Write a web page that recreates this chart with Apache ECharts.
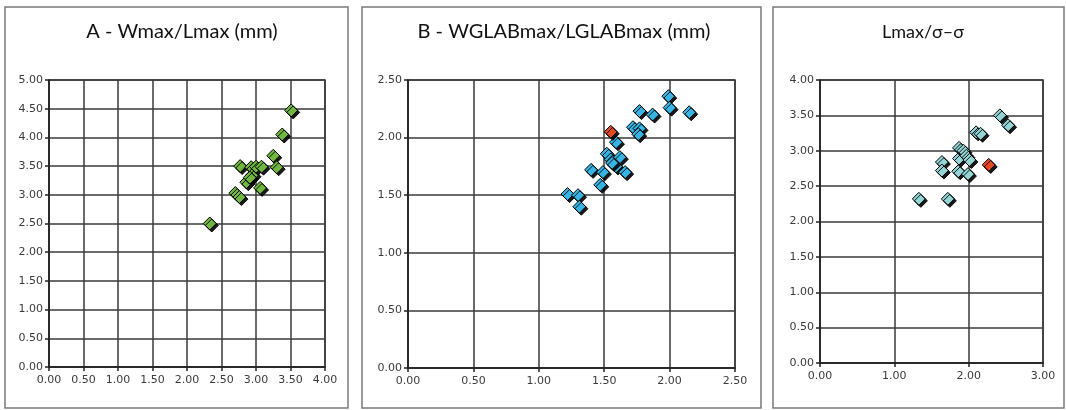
<!DOCTYPE html>
<html>
<head>
<meta charset="utf-8">
<script src="https://cdn.jsdelivr.net/npm/echarts@6/dist/echarts.min.js"></script>
<style>
  html, body { margin: 0; padding: 0; background: #fff; }
  #chart { width: 1066px; height: 410px; }
</style>
</head>
<body>
<div id="chart"></div>
<script>
// panel A - Wmax/Lmax
const titleA = "A - Wmax/Lmax (mm)";
const pointsA = [
  [2.33, 2.50], [2.70, 3.03], [2.76, 2.96], [2.77, 3.50], [2.86, 3.22],
  [2.93, 3.48], [2.95, 3.35], [3.00, 3.49], [3.08, 3.49], [3.06, 3.12],
  [3.25, 3.68], [3.30, 3.48], [3.38, 4.05], [3.51, 4.47], [2.91, 3.30]
];

// panel B - WGLABmax/LGLABmax
const titleB = "B - WGLABmax/LGLABmax (mm)";
const pointsB = [
  [1.22, 1.51], [1.30, 1.50], [1.31, 1.40], [1.40, 1.72], [1.49, 1.70],
  [1.47, 1.59], [1.52, 1.86], [1.55, 1.81], [1.59, 1.96], [1.62, 1.83],
  [1.59, 1.75], [1.66, 1.70], [1.72, 2.09], [1.77, 2.08], [1.76, 2.03],
  [1.77, 2.23], [1.87, 2.20], [1.99, 2.36], [2.00, 2.26], [2.15, 2.22],
  [1.56, 1.78]
];
const redB = [[1.55, 2.05]];

// panel C - Lmax/σ-σ
const titleC = "Lmax/σ–σ";
const pointsC = [
  [1.33, 2.32], [1.72, 2.32], [1.64, 2.84], [1.64, 2.72], [1.86, 2.71],
  [1.99, 2.67], [1.87, 2.89], [1.87, 3.04], [1.93, 3.00], [1.97, 2.93],
  [2.01, 2.87], [2.10, 3.26], [2.16, 3.24], [2.42, 3.50], [2.53, 3.36]
];
const redC = [[2.27, 2.80]];

const axisMaxA = [4, 5];
const axisMaxB = [2.5, 2.5];
const axisMaxC = [3, 4];

const chart = echarts.init(document.getElementById("chart"));
const FONT = "Lato, 'Open Sans', sans-serif";
const LABEL_FONT = "'DejaVu Sans', sans-serif";
const LINE = "#3a3a3a";

function xAxis(idx, max, interval) {
  return {
    type: "value", gridIndex: idx, min: 0, max: max, interval: interval,
    axisLine: { show: true, onZero: false, lineStyle: { color: "#222", width: 1.5 } },
    axisTick: { show: true, length: 4, lineStyle: { color: "#222", width: 1.5 } },
    axisLabel: { color: "#3a3a3a", fontSize: 11, fontFamily: LABEL_FONT, margin: 8,
      formatter: v => v.toFixed(2) },
    splitLine: { show: true, lineStyle: { color: LINE, width: 1.5 } }
  };
}
function yAxis(idx, max, interval) {
  return {
    type: "value", gridIndex: idx, min: 0, max: max, interval: interval,
    axisLine: { show: true, onZero: false, lineStyle: { color: "#222", width: 1.5 } },
    axisTick: { show: true, length: 4, lineStyle: { color: "#222", width: 1.5 } },
    axisLabel: { color: "#3a3a3a", fontSize: 11, fontFamily: LABEL_FONT, margin: 6,
      formatter: v => v.toFixed(2) },
    splitLine: { show: true, lineStyle: { color: LINE, width: 1.5 } }
  };
}
function scatter(idx, data, color) {
  return {
    type: "scatter", xAxisIndex: idx, yAxisIndex: idx, data: data,
    symbol: "diamond", symbolSize: 13,
    itemStyle: { color: color, borderColor: "#000", borderWidth: 1,
      shadowColor: "rgba(0,0,0,0.9)", shadowBlur: 0, shadowOffsetX: 2, shadowOffsetY: 2, opacity: 1 }
  };
}

function panel(x, w) {
  return { type: "rect", shape: { x: x, y: 7, width: w, height: 401 },
    style: { fill: "none", stroke: "#7a7a7a", lineWidth: 1.5 }, silent: true, z: 0 };
}
function heading(text, x, size) {
  return { type: "text", x: x, y: 32, silent: true,
    style: { text: text, fill: "#111", font: size + "px " + FONT,
      textAlign: "center", textVerticalAlign: "middle" } };
}

chart.setOption({
  animation: false,
  backgroundColor: "#fff",
  graphic: [
    panel(5, 343), panel(362, 399), panel(773, 291),
    heading(titleA, 182, 20), heading(titleB, 564, 20), heading(titleC, 923, 18)
  ],
  grid: [
    { left: 49, top: 80, width: 276, height: 287, show: true, borderColor: LINE, borderWidth: 1.5 },
    { left: 408, top: 80, width: 327, height: 288, show: true, borderColor: LINE, borderWidth: 1.5 },
    { left: 820, top: 80, width: 223, height: 283, show: true, borderColor: LINE, borderWidth: 1.5 }
  ],
  xAxis: [xAxis(0, axisMaxA[0], 0.5), xAxis(1, axisMaxB[0], 0.5), xAxis(2, axisMaxC[0], 1)],
  yAxis: [yAxis(0, axisMaxA[1], 0.5), yAxis(1, axisMaxB[1], 0.5), yAxis(2, axisMaxC[1], 0.5)],
  series: [
    scatter(0, pointsA, "#70b63f"),
    scatter(1, pointsB, "#36b4e3"),
    scatter(1, redB, "#e2491f"),
    scatter(2, pointsC, "#93d5d5"),
    scatter(2, redC, "#e2491f")
  ]
});
</script>
</body>
</html>
